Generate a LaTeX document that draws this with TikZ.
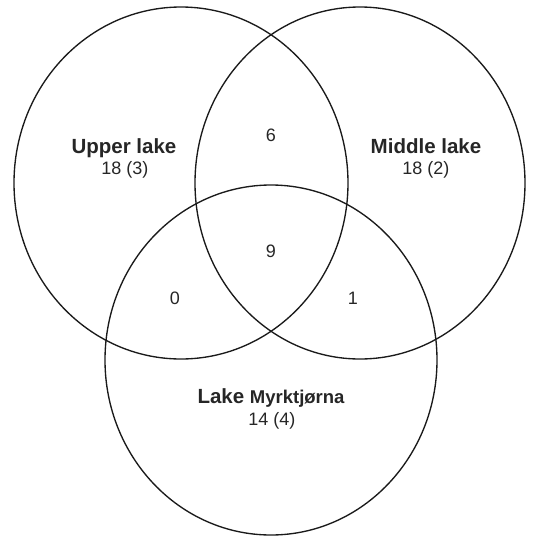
\documentclass[tikz,border=0pt]{standalone}
\usepackage{fontspec}
\setmainfont{Liberation Sans}
\definecolor{vennline}{HTML}{1A1A1A}
\definecolor{venntext}{HTML}{262626}
\tikzset{
  ring/.style={draw=vennline,line width=1.35pt},
  lakename/.style={font=\fontsize{20.5}{24}\selectfont\bfseries,text=venntext,inner sep=0pt,anchor=base},
  lakecount/.style={font=\fontsize{18}{21}\selectfont,text=venntext,inner sep=0pt,anchor=base},
}

\begin{document}
\begin{tikzpicture}[x=1pt,y=-1pt]
\useasboundingbox (0,0) rectangle (534,539);
% the three lakes
\coordinate (cu) at (181,183);
\coordinate (cm) at (360,183);
\coordinate (cl) at (271,360);
\draw[ring] (cu) ellipse [x radius=167pt,y radius=176pt];
\draw[ring] (cm) ellipse [x radius=165pt,y radius=176pt];
\draw[ring] (cl) ellipse [x radius=166pt,y radius=175pt];
% names and totals
\node[lakename] (upper) at (124,153) {Upper lake};
\node[lakecount] (uppern) at (125,174) {18 (3)};
\node[lakename] (middle) at (426,153) {Middle lake};
\node[lakecount] (middlen) at (426,174) {18 (2)};
\node[lakename] (myrk) at (271,403) {Lake {\fontsize{18.5}{22}\selectfont Myrktjørna}};
\node[lakecount] (myrkn) at (272,425) {14 (4)};
% shared species
\foreach \nm/\x/\y/\t in {six/271/141/6, nine/271/257/9, zero/175/304/0, one/353/304/1}
  \node[lakecount] (\nm) at (\x,\y) {\t};
\end{tikzpicture}
\end{document}
